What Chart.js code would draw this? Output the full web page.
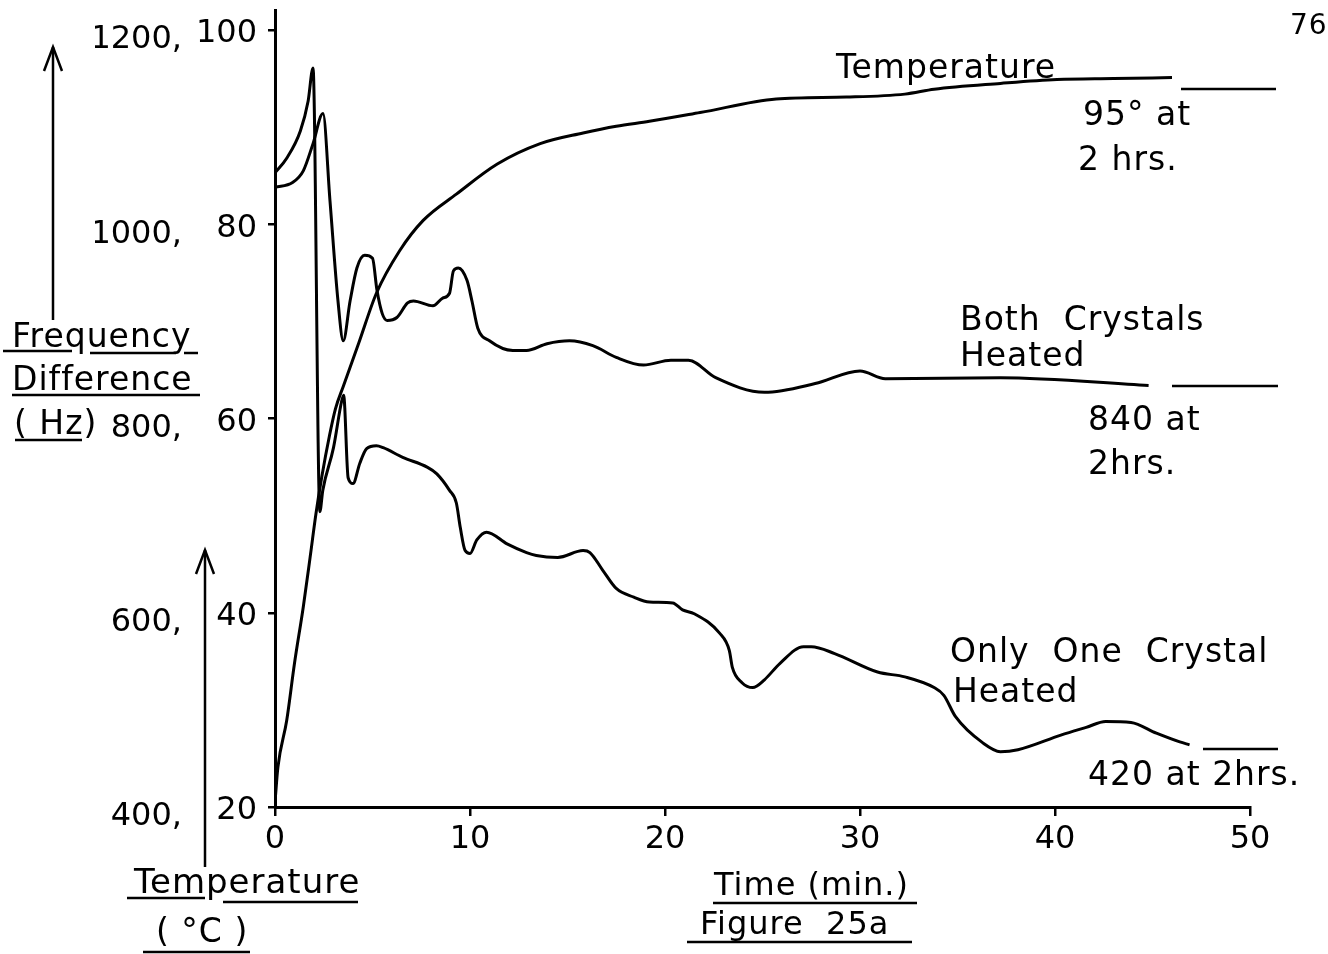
<!DOCTYPE html>
<html>
<head>
<meta charset="utf-8">
<title>Figure 25a</title>
<script src="https://cdn.jsdelivr.net/npm/chart.js@4.4.1/dist/chart.umd.min.js"></script>
<style>
  html, body { margin: 0; padding: 0; background: #fff; }
  #wrap { position: relative; width: 1328px; height: 954px; }
</style>
</head>
<body>
<div id="wrap"><canvas id="chart"></canvas></div>
<script>
// --- values ---
const timeTicks = [0, 10, 20, 30, 40, 50];
const tempTicks = [20, 40, 60, 80, 100];
const freqTicks = [400, 600, 800, 1000, 1200];

// Temperature (deg C) vs time (min)
const tempTime   = [0, 0.15, 0.6, 1.0, 1.45, 1.8, 2.1, 2.4, 2.8, 3.1, 3.5, 4.3, 5.2, 6.4, 7.6, 9.3, 11.4, 13.6, 15.8, 17.5, 19.2, 21.8, 25.7, 29.3, 32.3, 33.8, 37.2, 40.1, 43.0, 46.0];
const tempValues = [20.5, 24.1, 28.9, 34.8, 40.6, 45.7, 50.2, 54.0, 58.3, 61.0, 63.3, 67.8, 72.9, 77.3, 80.4, 83.1, 86.2, 88.3, 89.4, 90.1, 90.6, 91.5, 92.9, 93.1, 93.4, 93.9, 94.5, 94.9, 95.0, 95.1];

// Frequency difference (Hz), both crystals heated
const bothTime = [0, 0.9, 1.45, 1.95, 2.46, 2.82, 3.23, 3.5, 3.85, 4.2, 4.6, 5.0, 5.23, 5.5, 5.75, 6.25, 6.8, 7.1, 8.1, 8.6, 8.95, 9.15, 9.4, 9.85, 10.1, 10.4, 11.0, 12.2, 12.9, 13.95, 15.1, 16.3, 17.5, 18.9, 20.3, 21.2, 22.6, 25.1, 27.7, 30.0, 31.3, 37.2, 44.8];
const bothFreq = [1038, 1043, 1055, 1083, 1114, 1024, 921, 880, 921, 955, 968, 965, 932, 908, 901, 904, 919, 921, 916, 924, 929, 952, 955, 942, 921, 893, 880, 870, 870, 877, 880, 875, 863, 855, 860, 860, 842, 827, 836, 849, 841, 842, 834];

// Frequency difference (Hz), only one crystal heated
const oneTime = [0, 0.6, 1.3, 1.7, 1.95, 2.3, 2.45, 3.0, 3.42, 3.52, 3.75, 4.0, 4.35, 4.7, 5.2, 5.55, 6.55, 7.8, 8.3, 8.95, 9.3, 9.5, 9.75, 10.0, 10.35, 10.85, 11.9, 12.9, 13.4, 14.5, 15.8, 16.15, 16.8, 17.5, 18.4, 19.2, 20.4, 20.9, 21.5, 22.8, 23.3, 23.45, 23.95, 24.5, 25.1, 25.9, 27.1, 27.5, 28.7, 30.9, 32.3, 33.8, 34.3, 34.9, 36.3, 37.2, 38.1, 40.3, 41.6, 42.6, 43.9, 45.2, 46.4, 46.9];
const oneFreq = [1053, 1068, 1096, 1127, 1161, 704, 726, 770, 818, 824, 739, 733, 754, 769, 772, 770, 760, 750, 743, 726, 713, 688, 664, 661, 675, 683, 671, 662, 659, 657, 664, 662, 644, 625, 616, 611, 610, 603, 599, 579, 561, 544, 528, 523, 531, 548, 565, 565, 558, 539, 534, 523, 515, 493, 466, 457, 459, 474, 482, 488, 487, 476, 467, 464];

const FONT = '"DejaVu Sans", "Liberation Sans", sans-serif';
Chart.defaults.font.family = FONT;
Chart.defaults.color = "#000";

function pairs(xs, ys) { return xs.map((x, i) => ({ x, y: ys[i] })); }

function lineSet(label, data, axis) {
  return {
    label, data, yAxisID: axis,
    borderColor: "#000", borderWidth: 3,
    pointRadius: 0, fill: false,
    cubicInterpolationMode: "monotone"
  };
}

// hand-lettered labels, arrows and underlines of the original drawing
const lettering = {
  id: "lettering",
  afterDraw(chart) {
    const ctx = chart.ctx;
    ctx.save();
    ctx.fillStyle = "#000";
    ctx.strokeStyle = "#000";
    ctx.lineWidth = 2.5;
    ctx.textBaseline = "alphabetic";
    ctx.textAlign = "left";
    try { ctx.letterSpacing = "1px"; } catch (e) {}

    const txt = (s, x, y, size) => { ctx.font = size + "px " + FONT; ctx.fillText(s, x, y); };
    const seg = (x1, y1, x2, y2) => { ctx.beginPath(); ctx.moveTo(x1, y1); ctx.lineTo(x2, y2); ctx.stroke(); };
    const arrowUp = (x, top, bottom) => {
      seg(x, bottom, x, top);
      ctx.beginPath(); ctx.moveTo(x - 9, top + 24); ctx.lineTo(x, top); ctx.lineTo(x + 9, top + 24); ctx.stroke();
    };

    txt("76", 1290, 34, 28);

    // curve labels
    txt("Temperature", 836, 78, 33);
    txt("95° at", 1083, 125, 33);
    txt("2 hrs.", 1078, 170, 33);
    seg(1181, 89, 1276, 89);

    txt("Both  Crystals", 960, 330, 33);
    txt("Heated", 960, 366, 33);
    txt("840 at", 1088, 430, 33);
    txt("2hrs.", 1088, 474, 33);
    seg(1172, 386, 1278, 386);

    txt("Only  One  Crystal", 950, 662, 33);
    txt("Heated", 953, 702, 33);
    txt("420 at 2hrs.", 1088, 785, 33);
    seg(1203, 749, 1278, 749);

    // frequency axis title
    arrowUp(53, 47, 320);
    txt("Frequency", 12, 347, 33);
    txt("Difference", 12, 390, 33);
    txt("( Hz)", 14, 434, 33);
    seg(3, 351, 72, 351); seg(90, 353, 176, 353); seg(184, 353, 198, 353);
    seg(12, 395, 200, 395);
    seg(15, 440, 82, 440);

    // temperature axis title
    arrowUp(205, 550, 867);
    txt("Temperature", 134, 893, 34);
    txt("( °C )", 156, 942, 33);
    seg(127, 898, 205, 898); seg(223, 902, 358, 902);
    seg(143, 952, 250, 952);

    // x axis title
    txt("Time (min.)", 714, 895, 32);
    txt("Figure  25a", 700, 934, 32);
    seg(713, 903, 917, 903);
    seg(687, 942, 912, 942);

    ctx.restore();
  }
};

new Chart(document.getElementById("chart"), {
  type: "line",
  data: {
    datasets: [
      lineSet("Temperature", pairs(tempTime, tempValues), "y"),
      lineSet("Both Crystals Heated", pairs(bothTime, bothFreq), "yf"),
      lineSet("Only One Crystal Heated", pairs(oneTime, oneFreq), "yf")
    ]
  },
  options: {
    responsive: true,
    maintainAspectRatio: false,
    animation: false,
    layout: { padding: { left: 95, right: 78, top: 10.6, bottom: 87 } },
    plugins: { legend: { display: false }, tooltip: { enabled: false } },
    scales: {
      x: {
        type: "linear", min: 0, max: 50,
        afterBuildTicks: s => { s.ticks = timeTicks.map(v => ({ value: v })); },
        afterFit: s => { s.height = 60; s.paddingLeft = 0; s.paddingRight = 0; },
        ticks: { font: { size: 32 }, padding: 4, maxRotation: 0, color: "#000" },
        grid: { drawOnChartArea: false, tickLength: 9, color: "#000", lineWidth: 2.5 },
        border: { color: "#000", width: 3 }
      },
      y: {
        type: "linear", position: "left", weight: 0,
        min: 20, max: 102,
        afterBuildTicks: s => { s.ticks = tempTicks.map(v => ({ value: v })); },
        afterFit: s => { s.width = 80; s.paddingTop = 0; s.paddingBottom = 0; },
        ticks: { font: { size: 32 }, padding: 11, labelOffset: 4, color: "#000" },
        grid: { drawOnChartArea: false, tickLength: 7, color: "#000", lineWidth: 2.5 },
        border: { color: "#000", width: 3 }
      },
      yf: {
        type: "linear", position: "left", weight: 1,
        min: 400, max: 1220,
        afterBuildTicks: s => { s.ticks = freqTicks.map(v => ({ value: v })); },
        afterFit: s => { s.width = 100; s.paddingTop = 0; s.paddingBottom = 0; },
        ticks: { font: { size: 32 }, padding: 13, labelOffset: 10, color: "#000", callback: v => v + "," },
        grid: { display: false, drawTicks: false },
        border: { display: false }
      }
    }
  },
  plugins: [lettering]
});
</script>
</body>
</html>
